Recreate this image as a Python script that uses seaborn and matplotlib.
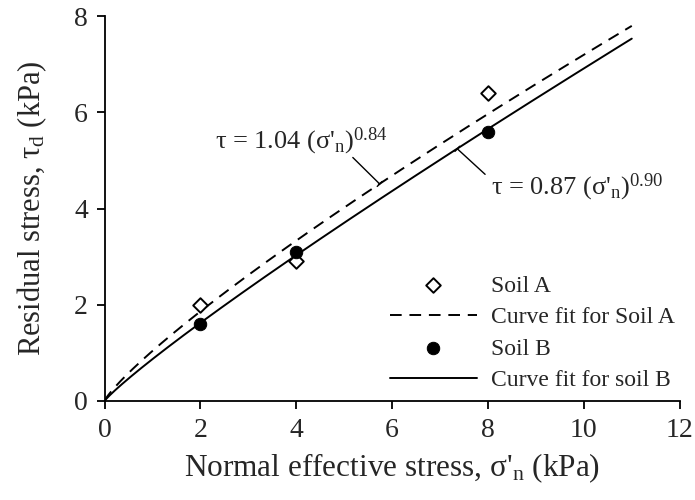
import numpy as np
import pandas as pd
import matplotlib
matplotlib.use("Agg")
import matplotlib.pyplot as plt
import seaborn as sns

# ---- data ----
stress_points = [2, 4, 8]
soil_a = [2.0, 2.9, 6.4]
soil_b = [1.6, 3.1, 5.6]
fit_a_coef, fit_a_exp = 1.04, 0.84
fit_b_coef, fit_b_exp = 0.87, 0.90
fit_x_max = 11
x_ticks = [0, 2, 4, 6, 8, 10, 12]
y_ticks = [0, 2, 4, 6, 8]

sns.set_style("white")
plt.rcParams["font.family"] = ["Liberation Serif", "DejaVu Serif"]
plt.rcParams["mathtext.fontset"] = "custom"
plt.rcParams["mathtext.rm"] = "Liberation Serif"
plt.rcParams["mathtext.it"] = "Liberation Serif"

fig = plt.figure(figsize=(6.95, 5.0), dpi=100)
ax = fig.add_axes([0.1504, 0.198, 0.978 - 0.1504, 0.968 - 0.198])

xf = np.linspace(0, fit_x_max, 300)
fit_df = pd.DataFrame({
    "x": np.concatenate([xf, xf]),
    "y": np.concatenate([fit_a_coef * xf ** fit_a_exp, fit_b_coef * xf ** fit_b_exp]),
    "fit": ["A"] * len(xf) + ["B"] * len(xf),
})
pts = pd.DataFrame({"x": stress_points, "a": soil_a, "b": soil_b})

lw = 1.4
sns.scatterplot(data=pts, x="x", y="a", marker="D", s=55, facecolor="white",
                edgecolor="black", linewidth=1.4, ax=ax, label="Soil A", zorder=4)
sns.lineplot(data=fit_df[fit_df.fit == "A"], x="x", y="y", color="black", lw=lw,
             dashes=False, ax=ax, label="Curve fit for Soil A")
ax.lines[-1].set_dashes((6, 4))
sns.scatterplot(data=pts, x="x", y="b", marker="o", s=80, color="black",
                edgecolor="black", ax=ax, label="Soil B", zorder=4)
sns.lineplot(data=fit_df[fit_df.fit == "B"], x="x", y="y", color="black", lw=lw,
             ax=ax, label="Curve fit for soil B")

ax.set_xlim(0, 12)
ax.set_ylim(0, 8)
ax.set_xticks(x_ticks)
ax.set_yticks(y_ticks)
for s in ["top", "right"]:
    ax.spines[s].set_visible(False)
for s in ["left", "bottom"]:
    ax.spines[s].set_color("black")
    ax.spines[s].set_linewidth(1.3)
ax.tick_params(axis="both", direction="out", length=6, width=1.3, color="black",
               labelsize=20, pad=6, bottom=True, left=True)

ax.set_xlabel("Normal effective stress, σ'$_\\mathregular{n}$ (kPa)", fontsize=22.5, labelpad=6)
ax.set_ylabel("Residual stress, τ$_\\mathregular{d}$ (kPa)", fontsize=22, labelpad=18)

arrow = dict(arrowstyle="-[, widthB=0.25, lengthB=0.0", color="black", lw=1.0,
             shrinkA=0, shrinkB=0)
ax.annotate("", xy=(5.74, 4.51), xytext=(5.18, 5.06), arrowprops=arrow)
ax.text(2.30, 5.40, "τ = 1.04 (σ'$_\\mathregular{n}$)$^\\mathregular{0.84}$",
        fontsize=19, ha="left", va="center")
ax.annotate("", xy=(7.36, 5.24), xytext=(7.94, 4.71), arrowprops=arrow)
ax.text(8.07, 4.44, "τ = 0.87 (σ'$_\\mathregular{n}$)$^\\mathregular{0.90}$",
        fontsize=19, ha="left", va="center")

h, l = ax.get_legend_handles_labels()
ax.legend(h, l, loc="upper left", bbox_to_anchor=(0.496, 0.327), frameon=False,
          fontsize=17, handlelength=3.7, handletextpad=0.6, labelspacing=0.42,
          borderpad=0, borderaxespad=0)

fig.savefig("out.png", dpi=100)
